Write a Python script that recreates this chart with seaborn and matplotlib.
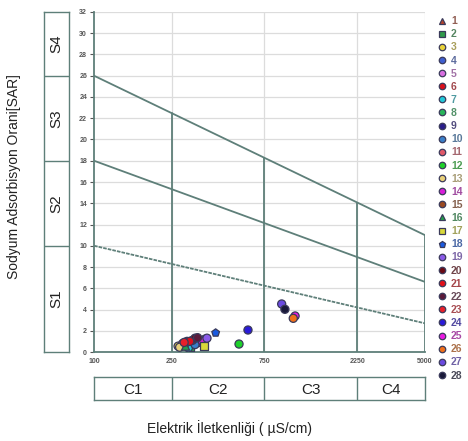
"""
Wilcox-style salinity diagram (SAR vs electrical conductivity).
"""

import numpy as np
import pandas as pd
import matplotlib
matplotlib.use('Agg')
import matplotlib.pyplot as plt
import seaborn as sns

# sample data
samples = [str(i) for i in range(1, 29)]
ec_values = [300, 310, 270, 345, 370, 300, 305, 290, 350, 330,
             285, 555, 275, 360, 320, 295, 365, 421, 380, 330,
             310, 340, 290, 617, 1077, 1054, 919, 955]
sar_values = [0.9, 0.5, 0.55, 0.9, 1.2, 1.0, 0.4, 0.6, 1.1, 0.7,
              0.8, 0.75, 0.45, 1.0, 1.1, 0.55, 0.55, 1.8, 1.3, 1.3,
              1.0, 1.35, 0.9, 2.07, 3.39, 3.17, 4.52, 4.02]
colors = ['#b5442b', '#2f9a4a', '#e8d23a', '#3f5fd0', '#d86ee0', '#d8101c', '#22c8d8',
          '#28b45a', '#2a1e8a', '#3b7fc8', '#e05868', '#1ed02a', '#e8d07a', '#d81ed8',
          '#9a4a22', '#24a04a', '#d8d83a', '#1a5ae0', '#8a5ae8', '#6a0a14', '#e0101a',
          '#5a1a3a', '#e8202a', '#2a1ad8', '#e81ae0', '#f0701a', '#6a4ae0', '#1a1a3a']
markers = ['^', 's', 'o', 'o', 'o', 'o', 'o', 'o', 'o', 'o', 'o', 'o', 'o', 'o',
           'o', '^', 's', 'p', 'o', 'o', 'o', 'o', 'o', 'o', 'o', 'o', 'o', 'o']

# classification boundaries
ec_ticks = [100, 250, 750, 2250, 5000]
sar_ticks = list(range(0, 33, 2))
boundary_start = [10, 18, 26]      # SAR at EC=100
boundary_end = [2.7, 6.6, 11.0]    # SAR at EC=5000
s_classes = ['S1', 'S2', 'S3', 'S4']
s_limits = [0, 10, 18, 26, 32]
c_classes = ['C1', 'C2', 'C3', 'C4']

line_color = '#5e7f79'
grid_color = '#dcdcdc'

df = pd.DataFrame({'sample': samples, 'EC': ec_values, 'SAR': sar_values})

sns.set_style('white')
plt.rcParams['font.family'] = ['Liberation Sans', 'DejaVu Sans']

fig = plt.figure(figsize=(4.68, 4.41), dpi=100)
ax = fig.add_axes([0.201, 0.2018, 0.707, 0.771])

ax.set_xscale('log')
ax.set_xlim(100, 5000)
ax.set_ylim(0, 32)

# light grid
for y in sar_ticks:
    ax.axhline(y, color=grid_color, lw=0.9, zorder=0)
for x in ec_ticks[1:]:
    ax.axvline(x, color=grid_color, lw=0.9, zorder=0)


def boundary(ec, i):
    t = (np.log10(ec) - 2) / (np.log10(5000) - 2)
    return boundary_start[i] + t * (boundary_end[i] - boundary_start[i])


# boundary lines
for i in range(3):
    ax.plot([100, 5000], [boundary_start[i], boundary_end[i]],
            color=line_color, lw=1.3, ls=(0, (2, 0.6)) if i == 0 else '-', zorder=1)
for x in ec_ticks[1:]:
    ax.plot([x, x], [0, boundary(x, 2)], color=line_color, lw=1.3, zorder=1)

sns.scatterplot(data=df, x='EC', y='SAR', hue='sample', style='sample',
                palette=dict(zip(samples, colors)), markers=dict(zip(samples, markers)),
                s=34, edgecolor='#3a3a5a', linewidth=0.9, ax=ax, zorder=3)

ax.set_xticks(ec_ticks)
ax.set_xticklabels([str(v) for v in ec_ticks])
ax.xaxis.set_minor_locator(matplotlib.ticker.NullLocator())
ax.set_yticks(sar_ticks)
ax.tick_params(axis='both', labelsize=5, colors='#555555', length=3, width=0.8,
               direction='out', pad=2)
for lbl in ax.get_xticklabels() + ax.get_yticklabels():
    lbl.set_fontweight('bold')
ax.tick_params(axis='x', length=0, pad=4)
ax.tick_params(axis='y', left=True)
ax.set_xlabel('')
ax.set_ylabel('')
for side in ['top', 'right']:
    ax.spines[side].set_visible(False)
for side in ['left', 'bottom']:
    ax.spines[side].set_color(line_color)
    ax.spines[side].set_linewidth(1.3)

# legend on the right
sns.move_legend(ax, 'upper left', bbox_to_anchor=(1.028, 1.0), frameon=False, title=None,
                fontsize=7.5, handlelength=0.6, handletextpad=0.6, labelspacing=0.3,
                borderaxespad=0, markerscale=0.8)
leg = ax.get_legend()
for txt, c in zip(leg.get_texts(), colors):
    rgb = np.array(matplotlib.colors.to_rgb(c))
    txt.set_color(tuple(rgb * 0.45 + 0.25))
    txt.set_fontweight('bold')

# S class panel
ax_s = fig.add_axes([0.094, 0.2018, 0.0534, 0.771])
ax_s.set_xlim(0, 1)
ax_s.set_ylim(0, 32)
for y in s_limits[1:-1]:
    ax_s.axhline(y, color=line_color, lw=1.0)
for k, name in enumerate(s_classes):
    ax_s.text(0.5, (s_limits[k] + s_limits[k + 1]) / 2, name, rotation=90,
              ha='center', va='center', fontsize=11, color='#222222')
ax_s.set_xticks([])
ax_s.set_yticks([])
for sp in ax_s.spines.values():
    sp.set_color(line_color)
    sp.set_linewidth(1.0)

# C class panel
ax_c = fig.add_axes([0.201, 0.093, 0.707, 0.052])
ax_c.set_xscale('log')
ax_c.set_xlim(100, 5000)
ax_c.set_ylim(0, 1)
for x in ec_ticks[1:-1]:
    ax_c.axvline(x, color=line_color, lw=1.0)
for k, name in enumerate(c_classes):
    mid = np.sqrt(ec_ticks[k] * ec_ticks[k + 1])
    ax_c.text(mid, 0.45, name, ha='center', va='center', fontsize=11, color='#222222')
ax_c.set_xticks([])
ax_c.set_yticks([])
ax_c.xaxis.set_minor_locator(matplotlib.ticker.NullLocator())
for sp in ax_c.spines.values():
    sp.set_color(line_color)
    sp.set_linewidth(1.0)

fig.text(0.03, 0.60, 'Sodyum Adsorbisyon Orani[SAR]', rotation=90, ha='center',
         va='center', fontsize=10, color='#222222')
fig.text(0.49, 0.03, 'Elektrik İletkenliği ( µS/cm)', ha='center', va='center',
         fontsize=10, color='#222222')

fig.savefig('out.png', dpi=100)
plt.close(fig)
